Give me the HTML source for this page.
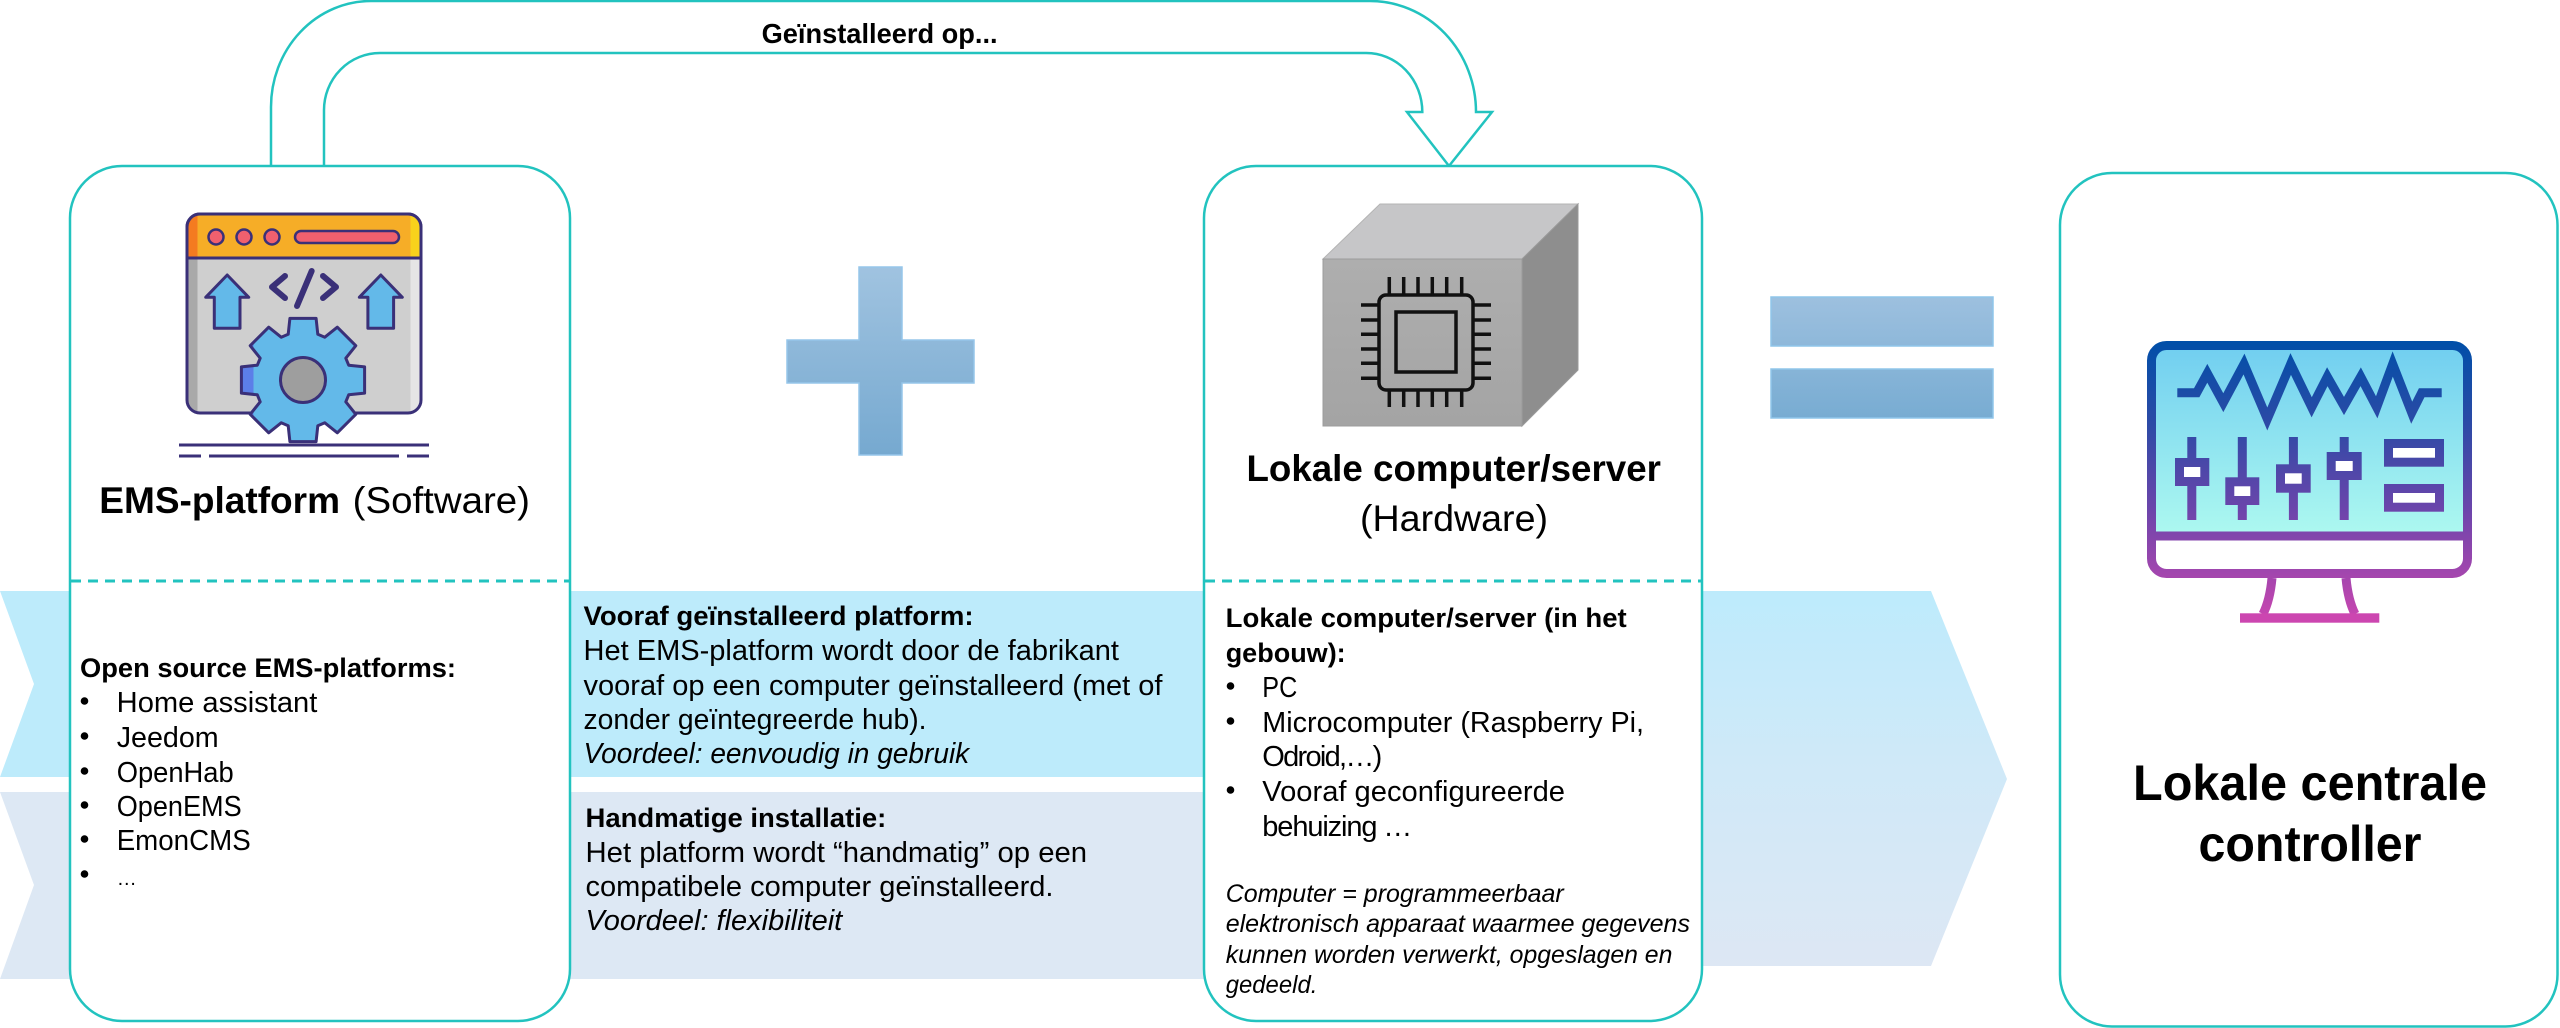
<!DOCTYPE html>
<html>
<head>
<meta charset="utf-8">
<style>
  html, body { margin: 0; padding: 0; background: #ffffff; }
  svg { display: block; }
  text { font-family: "Liberation Sans", Arial, sans-serif; fill: #000; }
</style>
</head>
<body>
<svg width="2560" height="1028" viewBox="0 0 2560 1028" xmlns="http://www.w3.org/2000/svg">
  <defs>
    <linearGradient id="arrowGrad" x1="0" y1="591" x2="0" y2="966" gradientUnits="userSpaceOnUse">
      <stop offset="0" stop-color="#bdebfc"/>
      <stop offset="0.45" stop-color="#cfe9f8"/>
      <stop offset="1" stop-color="#dde7f4"/>
    </linearGradient>
    <linearGradient id="plusGrad" x1="0" y1="267" x2="0" y2="455" gradientUnits="userSpaceOnUse">
      <stop offset="0" stop-color="#a0c3e0"/>
      <stop offset="1" stop-color="#76a9d0"/>
    </linearGradient>
    <linearGradient id="eqGrad" x1="0" y1="297" x2="0" y2="418" gradientUnits="userSpaceOnUse">
      <stop offset="0" stop-color="#9dc0df"/>
      <stop offset="1" stop-color="#78acd2"/>
    </linearGradient>
    <linearGradient id="winBody" x1="187" y1="0" x2="421" y2="0" gradientUnits="userSpaceOnUse">
      <stop offset="0" stop-color="#a9a9a9"/>
      <stop offset="0.045" stop-color="#a9a9a9"/>
      <stop offset="0.045" stop-color="#cfcfcf"/>
      <stop offset="0.955" stop-color="#cfcfcf"/>
      <stop offset="0.955" stop-color="#e5e5e5"/>
      <stop offset="1" stop-color="#e5e5e5"/>
    </linearGradient>
    <linearGradient id="winTitle" x1="187" y1="0" x2="421" y2="0" gradientUnits="userSpaceOnUse">
      <stop offset="0" stop-color="#f47b20"/>
      <stop offset="0.045" stop-color="#f47b20"/>
      <stop offset="0.045" stop-color="#f6ad27"/>
      <stop offset="0.955" stop-color="#f6ad27"/>
      <stop offset="0.955" stop-color="#f8d21c"/>
      <stop offset="1" stop-color="#f8d21c"/>
    </linearGradient>
    <linearGradient id="gearGrad" x1="238" y1="0" x2="368" y2="0" gradientUnits="userSpaceOnUse">
      <stop offset="0" stop-color="#5c7fe8"/>
      <stop offset="0.12" stop-color="#5c7fe8"/>
      <stop offset="0.12" stop-color="#63b9e9"/>
      <stop offset="1" stop-color="#63b9e9"/>
    </linearGradient>
    <linearGradient id="monStroke" x1="0" y1="341" x2="0" y2="623" gradientUnits="userSpaceOnUse">
      <stop offset="0" stop-color="#004fa8"/>
      <stop offset="0.3" stop-color="#2d4aa6"/>
      <stop offset="0.6" stop-color="#6c45ab"/>
      <stop offset="1" stop-color="#cc46b0"/>
    </linearGradient>
    <linearGradient id="monScreen" x1="0" y1="350" x2="0" y2="532" gradientUnits="userSpaceOnUse">
      <stop offset="0" stop-color="#72cff0"/>
      <stop offset="1" stop-color="#acf8f0"/>
    </linearGradient>
    <linearGradient id="cubeFront" x1="0" y1="259" x2="0" y2="426" gradientUnits="userSpaceOnUse">
      <stop offset="0" stop-color="#aeaeae"/>
      <stop offset="1" stop-color="#a4a4a4"/>
    </linearGradient>
  </defs>

  <!-- Background bands -->
  <polygon points="0,591 1206,591 1206,777 0,777 34,684" fill="#bdebfb"/>
  <polygon points="0,792 1206,792 1206,979 0,979 34,885" fill="#dde8f4"/>
  <polygon points="1700,591 1931,591 2007,779 1931,966 1700,966" fill="url(#arrowGrad)"/>

  <!-- Connector arrow "Geïnstalleerd op..." -->
  <path d="M271,166 V107 A100,106 0 0 1 371,1 H1370 A106,111 0 0 1 1476,112 H1492 L1449,166 L1407,112 H1422.3 A56,59 0 0 0 1366,53 H380 A56,57 0 0 0 324,110 V166"
        fill="none" stroke="#22c3bf" stroke-width="2.5" stroke-linejoin="miter"/>
  <text x="761.6" y="43" font-size="28" font-weight="bold" textLength="236" lengthAdjust="spacingAndGlyphs">Geïnstalleerd op...</text>

  <!-- Boxes -->
  <rect x="70" y="166" width="500" height="855" rx="52" ry="52" fill="#ffffff" stroke="#22c3bf" stroke-width="2.5"/>
  <rect x="1204" y="166" width="498" height="855" rx="52" ry="52" fill="#ffffff" stroke="#22c3bf" stroke-width="2.5"/>
  <rect x="2060" y="173" width="497.5" height="853.5" rx="52" ry="52" fill="#ffffff" stroke="#22c3bf" stroke-width="2.5"/>

  <!-- Dashed separators -->
  <line x1="71" y1="581" x2="569" y2="581" stroke="#22c3bf" stroke-width="3" stroke-dasharray="10 7"/>
  <line x1="1205" y1="581" x2="1701" y2="581" stroke="#22c3bf" stroke-width="3" stroke-dasharray="10 7"/>

  <!-- Plus sign -->
  <polygon points="859,267 902,267 902,340 974,340 974,383 902,383 902,455 859,455 859,383 787,383 787,340 859,340"
           fill="url(#plusGrad)" stroke="#95c6ea" stroke-width="1.5"/>

  <!-- Equals sign -->
  <rect x="1771" y="297" width="222" height="49" fill="url(#eqGrad)" stroke="#8fc5ea" stroke-width="1.5"/>
  <rect x="1771" y="369" width="222" height="49" fill="url(#eqGrad)" stroke="#8fc5ea" stroke-width="1.5"/>

  <!-- EMS icon -->
  <g stroke="#3a3078" stroke-width="3" stroke-linejoin="round">
    <rect x="187" y="214" width="234" height="199" rx="13" ry="13" fill="url(#winBody)"/>
    <path d="M187,258 V227 A13,13 0 0 1 200,214 H408 A13,13 0 0 1 421,227 V258 Z" fill="url(#winTitle)"/>
    <circle cx="216" cy="237" r="7.5" fill="#f0606e" stroke-width="2.5"/>
    <circle cx="244" cy="237" r="7.5" fill="#f0606e" stroke-width="2.5"/>
    <circle cx="272" cy="237" r="7.5" fill="#f0606e" stroke-width="2.5"/>
    <rect x="295" y="231" width="104" height="12" rx="6" ry="6" fill="#f0606e" stroke-width="2.5"/>
    <polygon points="227.2,275 248.7,297.3 240,297.3 240,328.3 214.3,328.3 214.3,297.3 205.7,297.3" fill="#63b9e9"/>
    <polygon points="380.8,275 402.3,297.3 393.6,297.3 393.6,328.3 367.9,328.3 367.9,297.3 359.3,297.3" fill="#63b9e9"/>
    <path d="M288.2,334.3 L289.9,318.4 L316.1,318.4 L317.8,334.3 L324.8,337.2 L337.3,327.2 L355.8,345.7 L345.8,358.2 L348.7,365.2 L364.6,366.9 L364.6,393.1 L348.7,394.8 L345.8,401.8 L355.8,414.3 L337.3,432.8 L324.8,422.8 L317.8,425.7 L316.1,441.6 L289.9,441.6 L288.2,425.7 L281.2,422.8 L268.7,432.8 L250.2,414.3 L260.2,401.8 L257.3,394.8 L241.4,393.1 L241.4,366.9 L257.3,365.2 L260.2,358.2 L250.2,345.7 L268.7,327.2 L281.2,337.2 Z" fill="url(#gearGrad)"/>
    <circle cx="303" cy="380" r="22.5" fill="#9e9e9e"/>
  </g>
  <g stroke="#3a3078" stroke-width="6" stroke-linecap="round" stroke-linejoin="round" fill="none">
    <polyline points="285,276 272,287 285,298"/>
    <line x1="311.7" y1="271" x2="297" y2="306"/>
    <polyline points="323,276 336,287 323,298"/>
  </g>
  <g stroke="#3a3078" stroke-width="3">
    <line x1="179" y1="445" x2="429" y2="445"/>
    <line x1="179" y1="456" x2="201" y2="456"/>
    <line x1="209" y1="456" x2="399" y2="456"/>
    <line x1="407" y1="456" x2="429" y2="456"/>
  </g>

  <!-- Cube with chip -->
  <polygon points="1323,259 1380,204 1578,204 1522,259" fill="#c6c6c8" stroke="#b4b4b4" stroke-width="1"/>
  <polygon points="1522,259 1578,204 1578,370 1522,426" fill="#8e8e8e" stroke="#9a9a9a" stroke-width="1"/>
  <rect x="1323" y="259" width="199" height="167" fill="url(#cubeFront)" stroke="#9c9c9c" stroke-width="1"/>
  <g stroke="#111" stroke-width="3.5" fill="none">
    <rect x="1379" y="295" width="94" height="95" rx="7" ry="7"/>
    <rect x="1396" y="312" width="60" height="60"/>
    <path d="M1389.3,277 V295 M1403.7,277 V295 M1418,277 V295 M1432.3,277 V295 M1446.7,277 V295 M1461.7,277 V295
             M1389.3,390 V407 M1403.7,390 V407 M1418,390 V407 M1432.3,390 V407 M1446.7,390 V407 M1461.7,390 V407
             M1361,305 H1379 M1361,320 H1379 M1361,334.3 H1379 M1361,349 H1379 M1361,363.3 H1379 M1361,378.3 H1379
             M1473,305 H1491 M1473,320 H1491 M1473,334.3 H1491 M1473,349 H1491 M1473,363.3 H1491 M1473,378.3 H1491"/>
  </g>

  <!-- Monitor icon -->
  <rect x="2155" y="349" width="309" height="185" fill="url(#monScreen)"/>
  <g stroke="url(#monStroke)" stroke-width="9" fill="none">
    <rect x="2151.5" y="345.5" width="316" height="228" rx="15" ry="15"/>
    <line x1="2151.5" y1="536" x2="2467.5" y2="536"/>
    <path d="M2272,578 Q2270,600 2263,614 M2346,578 Q2348,600 2355,614"/>
    <polyline stroke-linejoin="miter" points="2177.3,392.7 2196.7,392.7 2207.3,373.3 2223.3,402.7 2244,364 2267.3,419 2290.7,364 2311.7,407.3 2327.3,376.7 2344,406 2360.7,376.7 2376.7,407.3 2392.7,364 2411.7,412.7 2421.7,392.7 2441.7,392.7"/>
    <line x1="2191.8" y1="437" x2="2191.8" y2="520"/>
    <line x1="2242.3" y1="437" x2="2242.3" y2="520"/>
    <line x1="2293.4" y1="437" x2="2293.4" y2="520"/>
    <line x1="2344.2" y1="437" x2="2344.2" y2="520"/>
    <rect x="2179.5" y="462.5" width="25.3" height="19" fill="#ffffff"/>
    <rect x="2229.8" y="481.8" width="25" height="18.7" fill="#ffffff"/>
    <rect x="2280.5" y="468.8" width="25.7" height="19.4" fill="#ffffff"/>
    <rect x="2331.2" y="456.5" width="26" height="19" fill="#ffffff"/>
    <rect x="2388.5" y="443.5" width="51" height="18.7" fill="#ffffff"/>
    <rect x="2388.5" y="488.5" width="51" height="18.7" fill="#ffffff"/>
  </g>
  <rect x="2240" y="613.3" width="139.3" height="9.4" fill="#cc46b0"/>

  <!-- EMS box text -->
  <text x="99.3" y="513" font-size="37" font-weight="bold" textLength="240.7" lengthAdjust="spacingAndGlyphs">EMS-platform</text>
  <text x="352.7" y="513" font-size="37" textLength="177.3" lengthAdjust="spacingAndGlyphs">(Software)</text>

  <text x="80" y="677" font-size="27" font-weight="bold" textLength="376" lengthAdjust="spacingAndGlyphs">Open source EMS-platforms:</text>
  <g fill="#000">
    <circle cx="84.5" cy="701" r="3.8"/>
    <circle cx="84.5" cy="736" r="3.8"/>
    <circle cx="84.5" cy="771" r="3.8"/>
    <circle cx="84.5" cy="805" r="3.8"/>
    <circle cx="84.5" cy="839" r="3.8"/>
    <circle cx="84.5" cy="874" r="3.8"/>
  </g>
  <text x="116.7" y="712" font-size="29" textLength="200.6" lengthAdjust="spacingAndGlyphs">Home assistant</text>
  <text x="116.7" y="747" font-size="29" textLength="102" lengthAdjust="spacingAndGlyphs">Jeedom</text>
  <text x="116.7" y="782" font-size="29" textLength="117" lengthAdjust="spacingAndGlyphs">OpenHab</text>
  <text x="116.7" y="816" font-size="29" textLength="125" lengthAdjust="spacingAndGlyphs">OpenEMS</text>
  <text x="116.7" y="850" font-size="29" textLength="134" lengthAdjust="spacingAndGlyphs">EmonCMS</text>
  <text x="116.7" y="885" font-size="20">…</text>

  <!-- Middle text -->
  <text x="583.5" y="625" font-size="27" font-weight="bold" textLength="390" lengthAdjust="spacingAndGlyphs">Vooraf geïnstalleerd platform:</text>
  <text x="583.5" y="660" font-size="29" textLength="535.5" lengthAdjust="spacingAndGlyphs">Het EMS-platform wordt door de fabrikant</text>
  <text x="583.5" y="695" font-size="29" textLength="579" lengthAdjust="spacingAndGlyphs">vooraf op een computer geïnstalleerd (met of</text>
  <text x="583.5" y="729" font-size="29" textLength="343" lengthAdjust="spacingAndGlyphs">zonder geïntegreerde hub).</text>
  <text x="583.5" y="763" font-size="29" font-style="italic" textLength="385.7" lengthAdjust="spacingAndGlyphs">Voordeel: eenvoudig in gebruik</text>

  <text x="585.5" y="827" font-size="27" font-weight="bold" textLength="300.8" lengthAdjust="spacingAndGlyphs">Handmatige installatie:</text>
  <text x="585.5" y="862" font-size="29" textLength="501.6" lengthAdjust="spacingAndGlyphs">Het platform wordt “handmatig” op een</text>
  <text x="585.5" y="896" font-size="29" textLength="468" lengthAdjust="spacingAndGlyphs">compatibele computer geïnstalleerd.</text>
  <text x="585.5" y="930" font-size="29" font-style="italic" textLength="256.7" lengthAdjust="spacingAndGlyphs">Voordeel: flexibiliteit</text>

  <!-- Lokale computer box text -->
  <text x="1453.7" y="481" font-size="37" font-weight="bold" text-anchor="middle" textLength="414.5" lengthAdjust="spacingAndGlyphs">Lokale computer/server</text>
  <text x="1454" y="531" font-size="37" text-anchor="middle" textLength="188" lengthAdjust="spacingAndGlyphs">(Hardware)</text>

  <text x="1225.7" y="627" font-size="27" font-weight="bold" textLength="401" lengthAdjust="spacingAndGlyphs">Lokale computer/server (in het</text>
  <text x="1225.7" y="662" font-size="27" font-weight="bold" textLength="120" lengthAdjust="spacingAndGlyphs">gebouw):</text>
  <g fill="#000">
    <circle cx="1230.5" cy="686" r="3.8"/>
    <circle cx="1230.5" cy="721" r="3.8"/>
    <circle cx="1230.5" cy="790" r="3.8"/>
  </g>
  <text x="1262.3" y="697" font-size="29" textLength="35" lengthAdjust="spacingAndGlyphs">PC</text>
  <text x="1262.3" y="732" font-size="29" textLength="381.7" lengthAdjust="spacingAndGlyphs">Microcomputer (Raspberry Pi,</text>
  <text x="1262.3" y="766" font-size="29" textLength="120" lengthAdjust="spacing">Odroid,…)</text>
  <text x="1262.3" y="801" font-size="29" textLength="302.7" lengthAdjust="spacingAndGlyphs">Vooraf geconfigureerde</text>
  <text x="1262.3" y="836" font-size="29" textLength="150" lengthAdjust="spacing">behuizing …</text>

  <text x="1225.7" y="902" font-size="25" font-style="italic" textLength="338" lengthAdjust="spacingAndGlyphs">Computer = programmeerbaar</text>
  <text x="1225.7" y="932" font-size="25" font-style="italic" textLength="464.3" lengthAdjust="spacingAndGlyphs">elektronisch apparaat waarmee gegevens</text>
  <text x="1225.7" y="963" font-size="25" font-style="italic" textLength="446.7" lengthAdjust="spacingAndGlyphs">kunnen worden verwerkt, opgeslagen en</text>
  <text x="1225.7" y="993" font-size="25" font-style="italic" textLength="91.7" lengthAdjust="spacingAndGlyphs">gedeeld.</text>

  <!-- Right box text -->
  <text x="2310" y="800" font-size="50" font-weight="bold" text-anchor="middle" textLength="354" lengthAdjust="spacingAndGlyphs">Lokale centrale</text>
  <text x="2310" y="861" font-size="50" font-weight="bold" text-anchor="middle" textLength="223" lengthAdjust="spacingAndGlyphs">controller</text>
</svg>
</body>
</html>
